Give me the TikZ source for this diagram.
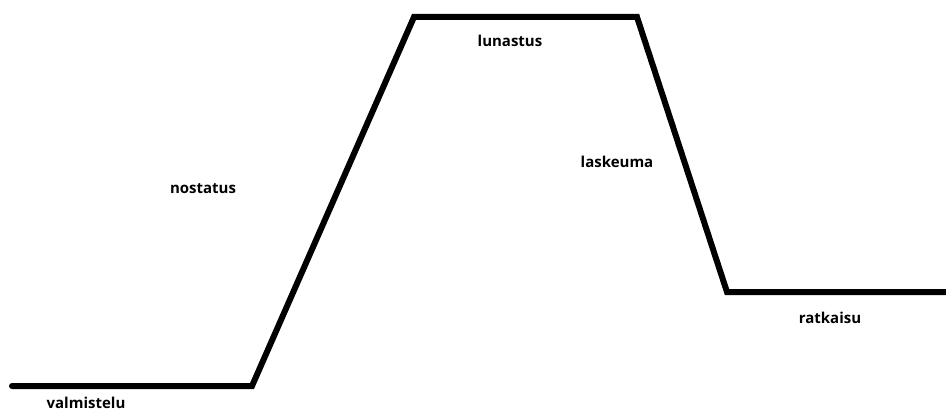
\documentclass[tikz,border=0pt]{standalone}
\usepackage{fontspec}
\setmainfont{Open Sans}
\usetikzlibrary{positioning}

\tikzset{
  vaihe/.style={font=\bfseries\fontsize{15}{17}\selectfont, inner sep=0pt, anchor=base},
  kaari/.style={line width=6pt, line cap=round, line join=miter}
}

\begin{document}
\begin{tikzpicture}[x=1pt,y=-1pt]
\useasboundingbox (0,0) rectangle (946,412);
\coordinate (alku) at (12,386);
\coordinate (nousu) at (252,386);
\coordinate (huippu1) at (414,17);
\coordinate (huippu2) at (637,17);
\coordinate (lasku) at (727,292);
\coordinate (loppu) at (950,292);
\draw[kaari] (alku) -- (nousu) -- (huippu1) -- (huippu2) -- (lasku) -- (loppu);
\node[vaihe] (valmistelu) at (86,408) {valmistelu};
\node[vaihe] (nostatus) at (203,193) {nostatus};
\node[vaihe] (lunastus) at (510,47) {lunastus};
\node[vaihe] (laskeuma) at (617,167) {laskeuma};
\node[vaihe] (ratkaisu) at (830,323) {ratkaisu};
\end{tikzpicture}
\end{document}
